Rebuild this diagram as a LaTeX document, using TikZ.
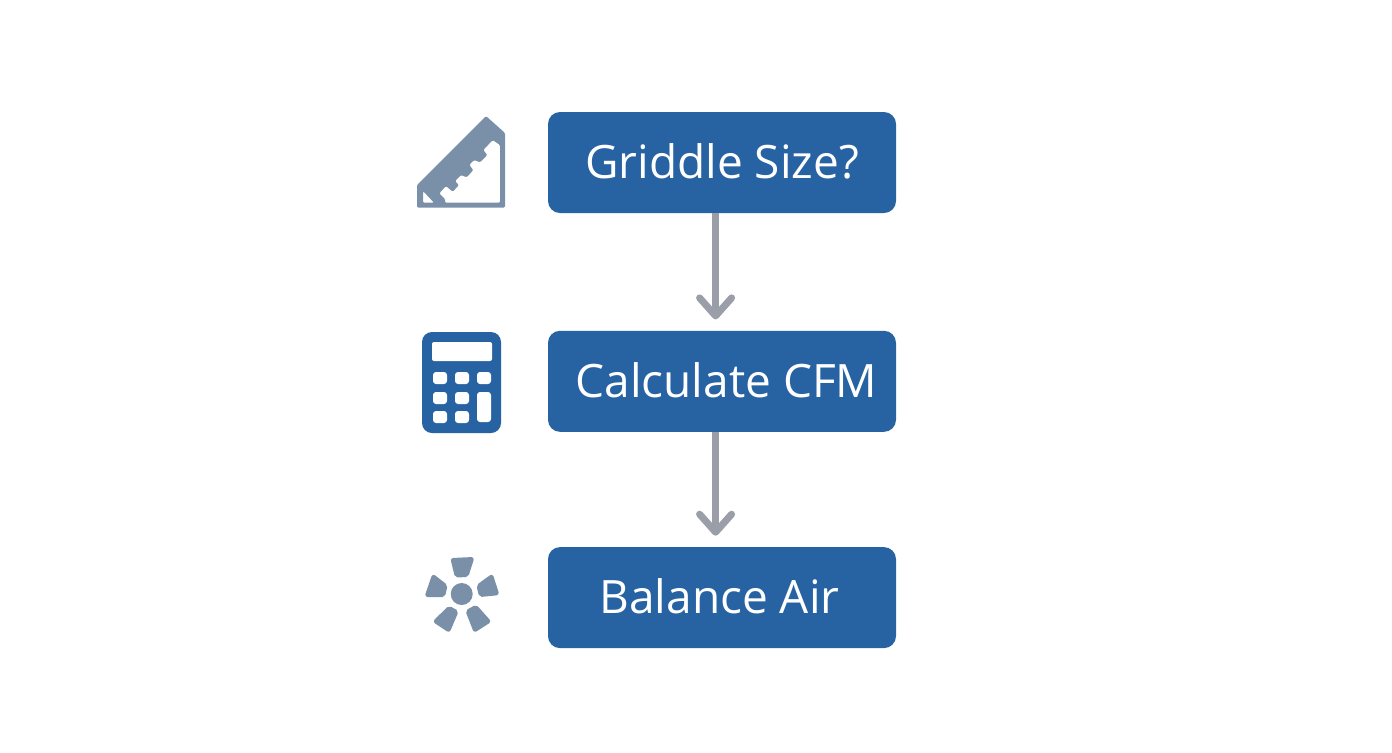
\documentclass[tikz,border=0pt]{standalone}
\usepackage{fontspec}
\setmainfont{Open Sans}
\usetikzlibrary{positioning,arrows.meta}
\definecolor{boxblue}{HTML}{2762A3}
\definecolor{icongray}{HTML}{7A90A8}
\definecolor{arrowgray}{HTML}{9A9EA9}
\tikzset{
	stepbox/.style={draw=none, fill=boxblue, rounded corners=6pt, minimum width=174pt, minimum height=50.5pt, inner sep=0pt, text=white, font=\fontsize{23}{27}\selectfont, text height=17pt, text depth=1pt},
	flowarrow/.style={draw=arrowgray, line width=3.5pt, shorten >=5.5pt, -{Straight Barb[length=9pt, width=16pt, line width=3.5pt, round]}}
}
\begin{document}
\begin{tikzpicture}[x=0.5pt, y=-0.5pt]
	\useasboundingbox (0,0) rectangle (1392,752);
	\fill[white] (0,0) rectangle (1392,752);

	% the three steps
	\node[stepbox] (griddle) at (722,162.5) {Griddle Size?};
	\node[stepbox, below=58.5pt of griddle] (cfm) {\hspace*{4.5pt}Calculate CFM};
	\node[stepbox, below=57.25pt of cfm] (balance) {Balance Air\hspace*{2.5pt}};

	\draw[flowarrow] ([xshift=-3.2pt]griddle.south) -- ([xshift=-3.2pt]cfm.north);
	\draw[flowarrow] ([xshift=-3.2pt]cfm.south) -- ([xshift=-3.2pt]balance.north);

	% ruler
	\fill[icongray, even odd rule, rounded corners=0.6pt]
		(417,185) -- (486,116) -- (505,133) -- (505,207.5) -- (417,207.5) -- cycle
		(492.7,140) -- (500,145) -- (500,202.7) -- (445,202.7) -- (445,199) -- (439.3,193.3)
		-- (446,186) -- (452.7,191.7) -- (459,185) -- (455,181) -- (461,175) -- (466.7,177.3)
		-- (473.3,170) -- (469.3,165) -- (474,160) -- (480,162.3) -- (487.3,155) -- (483.3,150) -- cycle
		(423,191) -- (434,202.7) -- (423,202.7) -- cycle;

	% calculator
	\fill[boxblue, rounded corners=5pt] (422,332) rectangle (501,433);
	\fill[white, rounded corners=1pt] (432,342) rectangle (492,361);
	\foreach \xa/\ya in {433/372, 455/372, 477/372, 433/392, 455/392, 433/411, 455/411}
		\fill[white, rounded corners=1.5pt] (\xa,\ya) rectangle ++(14,12);
	\fill[white, rounded corners=1.5pt] (477,392) rectangle (491,422);

	% fan
	\fill[icongray] (461.7,594) circle (5.5pt);
	\foreach \pa/\pb/\pc/\pd in {
		{451.5,559}/{473.2,558}/{467.5,576}/{455.8,576.5},
		{477.5,585.5}/{492,575}/{498.2,594.2}/{480,596},
		{425.8,596}/{433,575}/{446.5,585.5}/{444.2,596},
		{466.5,611}/{476,605.8}/{490,621.5}/{474.5,631.5},
		{434,621.5}/{449,606.8}/{457.5,611.5}/{449,631.5}}
		\filldraw[icongray, line width=1pt, line join=round, rounded corners=1pt] (\pa) -- (\pb) -- (\pc) -- (\pd) -- cycle;
\end{tikzpicture}
\end{document}
